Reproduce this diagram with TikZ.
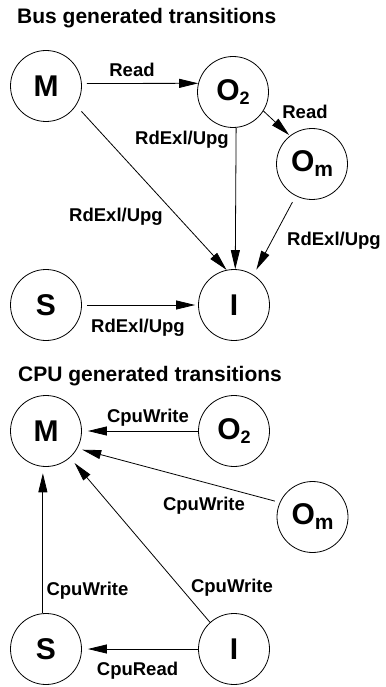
\documentclass[tikz,border=0pt]{standalone}
\usepackage{fontspec}
\setmainfont{Liberation Sans}
\usetikzlibrary{arrows.meta}
\begin{document}
\begin{tikzpicture}[x=1pt,y=-1pt,
  st/.style={circle,draw,line width=0.8pt,minimum size=71pt,inner sep=0pt,font=\fontsize{30}{30}\selectfont\bfseries},
  tr/.style={line width=0.8pt,-{Triangle[length=19pt,width=9pt]}},
  lbl/.style={anchor=base,inner sep=0pt,font=\fontsize{18.5}{18.5}\selectfont\bfseries},
  ttl/.style={anchor=base west,inner sep=0pt,font=\fontsize{21}{21}\selectfont\bfseries}]
\useasboundingbox (0,0) rectangle (385,687);

% Bus generated transitions
\node[ttl] (t1) at (17,24) {Bus generated transitions};
\node[st] (M)  at (46,86)  {M};
\node[st] (O2) at (233,92) {O\raisebox{-4pt}{\fontsize{18}{18}\selectfont 2}};
\node[st] (Om) at (312,164) {O\raisebox{-5pt}{\fontsize{21}{21}\selectfont m}};
\node[st] (S)  at (46,305) {S};
\node[st] (I)  at (234,305) {I};

\draw[tr,shorten <=5pt] (M.4) -- (O2.166);
\draw[tr,shorten >=1pt] (O2.-32) -- (Om.128);
\draw[tr,shorten <=8pt] (M.-33) -- (I.102);
\draw[tr] (O2.-85) -- (I.88);
\draw[tr,shorten <=7pt,shorten >=6pt] (Om.-117) -- (I.57);
\draw[tr,shorten <=5pt,shorten >=3pt] (S.0) -- (I.180);

\node[lbl] (r1) at (132,77) {Read};
\node[lbl] (r2) at (305,119) {Read};
\node[lbl] (u1) at (116,221.5) {RdExl/Upg};
\node[lbl] (u2) at (182,145) {RdExl/Upg};
\node[lbl] (u3) at (334,245) {RdExl/Upg};
\node[lbl] (u4) at (138,332) {RdExl/Upg};

% CPU generated transitions
\node[ttl] (t2) at (18,381.7) {CPU generated transitions};
\node[st] (M2)  at (46,431)  {M};
\node[st] (O2b) at (234,431) {O\raisebox{-4pt}{\fontsize{18}{18}\selectfont 2}};
\node[st] (Omb) at (312.5,517) {O\raisebox{-5pt}{\fontsize{21}{21}\selectfont m}};
\node[st] (Sb)  at (46,649) {S};
\node[st] (Ib)  at (234,649) {I};

\draw[tr,shorten >=6pt] (O2b.180) -- (M2.0);
\draw[tr,shorten <=5pt,shorten >=5pt] (Omb.156) -- (M2.-29);
\draw[tr,shorten >=7pt] (Ib.132) -- (M2.-48);
\draw[tr,shorten >=6.5pt] (Sb.95) -- (M2.-95);
\draw[tr,shorten >=6pt] (Ib.180) -- (Sb.0);

\node[lbl] (c1) at (148,422) {CpuWrite};
\node[lbl] (c2) at (204,510) {CpuWrite};
\node[lbl] (c3) at (232,592) {CpuWrite};
\node[lbl] (c4) at (87.5,595) {CpuWrite};
\node[lbl] (c5) at (137.5,675) {CpuRead};
\end{tikzpicture}
\end{document}
